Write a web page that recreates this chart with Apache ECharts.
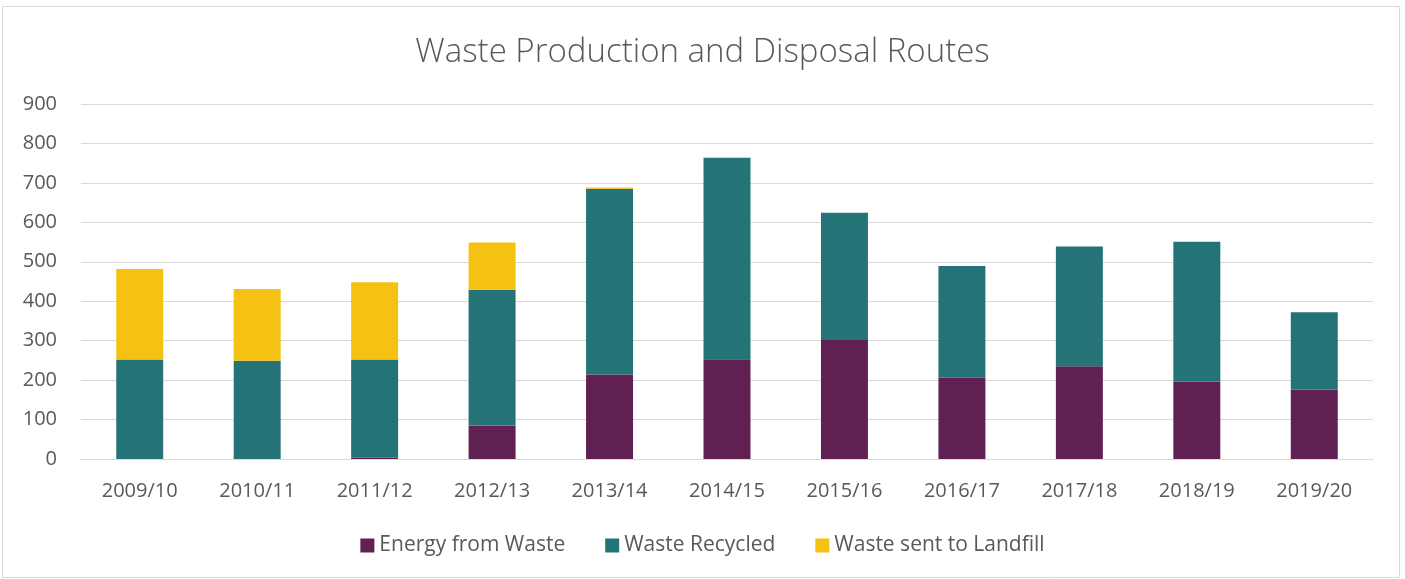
<!DOCTYPE html>
<html>
<head>
<meta charset="utf-8">
<title>Waste Production and Disposal Routes</title>
<script src="https://cdn.jsdelivr.net/npm/echarts@6/dist/echarts.min.js"></script>
<style>
  html, body { margin: 0; padding: 0; background: #fff; }
  #chart { width: 1405px; height: 579px; }
</style>
</head>
<body>
<div id="chart"></div>
<script>
// data
const years = ["2009/10", "2010/11", "2011/12", "2012/13", "2013/14", "2014/15",
  "2015/16", "2016/17", "2017/18", "2018/19", "2019/20"];
const energyFromWaste = [0, 0, 3, 85, 214, 253, 302, 206, 235, 196, 176];
const wasteRecycled = [252, 249, 249, 344, 471, 511, 322, 283, 304, 355, 196];
const wasteLandfill = [230, 182, 196, 120, 3, 0, 0, 0, 0, 0, 0];

const textColor = "#595959";
const font = "'Open Sans', 'Noto Sans', sans-serif";

const chart = echarts.init(document.getElementById("chart"));

const barSeries = (name, data, color) => ({
  name: name,
  type: "bar",
  stack: "total",
  barWidth: "40%",
  data: data,
  itemStyle: { color: color },
});

chart.setOption({
  animation: false,
  textStyle: { fontFamily: font },
  title: {
    text: "Waste Production and Disposal Routes",
    left: "center",
    top: 31,
    textStyle: {
      color: textColor,
      fontSize: 33,
      fontWeight: 300,
      fontFamily: font,
    },
  },
  graphic: [
    {
      type: "rect",
      shape: { x: 2.5, y: 6.5, width: 1397, height: 571 },
      style: { fill: "none", stroke: "#d9d9d9", lineWidth: 1 },
      silent: true,
    },
  ],
  legend: {
    data: ["Energy from Waste", "Waste Recycled", "Waste sent to Landfill"],
    bottom: 18,
    left: "center",
    itemWidth: 14,
    itemHeight: 14,
    itemGap: 40,
    icon: "rect",
    textStyle: { color: textColor, fontSize: 21, fontFamily: font },
  },
  grid: {
    left: 81,
    right: 32,
    top: 104,
    bottom: 120,
  },
  xAxis: {
    type: "category",
    data: years,
    axisLine: { lineStyle: { color: "#d9d9d9", width: 1 } },
    axisTick: { show: false },
    axisLabel: { color: textColor, fontSize: 20, margin: 22 },
  },
  yAxis: {
    type: "value",
    min: 0,
    max: 900,
    interval: 100,
    axisLine: { show: false },
    axisTick: { show: false },
    splitLine: { lineStyle: { color: "#d9d9d9", width: 1 } },
    axisLabel: { color: textColor, fontSize: 20, margin: 24 },
  },
  series: [
    barSeries("Energy from Waste", energyFromWaste, "#612052"),
    barSeries("Waste Recycled", wasteRecycled, "#247477"),
    barSeries("Waste sent to Landfill", wasteLandfill, "#f5c213"),
  ],
});
</script>
</body>
</html>
